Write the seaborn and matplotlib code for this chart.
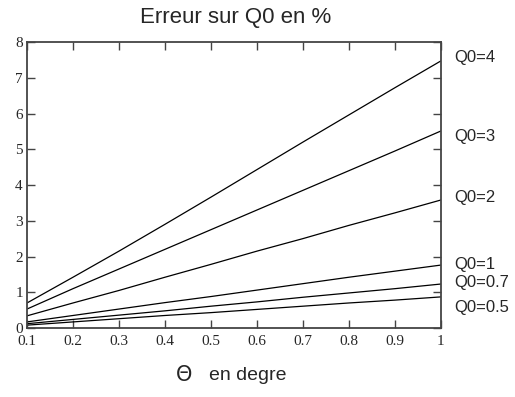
import matplotlib
matplotlib.use("Agg")
from matplotlib import pyplot as plt
import pandas as pd
import seaborn as sns

# angle in degrees
theta = [0.1, 0.2, 0.3, 0.4, 0.5, 0.6, 0.7, 0.8, 0.9, 1.0]

# error on Q0 (%) for each Q0 value
err_q4 = [0.70, 1.42, 2.15, 2.90, 3.66, 4.43, 5.20, 5.96, 6.72, 7.47]
err_q3 = [0.53, 1.10, 1.65, 2.20, 2.75, 3.30, 3.85, 4.40, 4.95, 5.51]
err_q2 = [0.34, 0.70, 1.05, 1.42, 1.78, 2.15, 2.50, 2.87, 3.22, 3.58]
err_q1 = [0.17, 0.35, 0.53, 0.71, 0.88, 1.06, 1.24, 1.42, 1.59, 1.76]
err_q07 = [0.12, 0.24, 0.36, 0.48, 0.61, 0.73, 0.86, 0.98, 1.10, 1.23]
err_q05 = [0.08, 0.17, 0.26, 0.35, 0.43, 0.52, 0.61, 0.70, 0.78, 0.87]

series_names = ["Q0=4", "Q0=3", "Q0=2", "Q0=1", "Q0=0.7", "Q0=0.5"]
series_values = [err_q4, err_q3, err_q2, err_q1, err_q07, err_q05]

x_ticks = [0.1, 0.2, 0.3, 0.4, 0.5, 0.6, 0.7, 0.8, 0.9, 1]
x_tick_labels = ["0.1", "0.2", "0.3", "0.4", "0.5", "0.6", "0.7", "0.8", "0.9", "1"]
y_ticks = [0, 1, 2, 3, 4, 5, 6, 7, 8]

# long table for seaborn
rows = []
for name, vals in zip(series_names, series_values):
    for t, v in zip(theta, vals):
        rows.append({"theta": t, "err": v, "Q0": name})
df = pd.DataFrame(rows)

sns.set_style("white")
plt.rcParams["font.family"] = ["Liberation Sans", "DejaVu Sans"]

fig = plt.figure(figsize=(5.15, 3.97), dpi=100)
ax = fig.add_axes([0.0524, 0.1738, 0.8036, 0.7204])

sns.lineplot(data=df, x="theta", y="err", hue="Q0", hue_order=series_names,
             palette=["black"] * len(series_names), linewidth=0.9,
             legend=False, ax=ax)

ax.set_xlim(0.1, 1)
ax.set_ylim(0, 8)
ax.set_xticks(x_ticks)
ax.set_xticklabels(x_tick_labels)
ax.set_yticks(y_ticks)

for side in ["left", "right", "top", "bottom"]:
    ax.spines[side].set_visible(True)
    ax.spines[side].set_color("#444444")
    ax.spines[side].set_linewidth(1.3)

ax.tick_params(direction="in", length=6, width=1, color="#444444",
               top=True, right=True, left=True, bottom=True,
               labeltop=False, labelright=False)
ax.tick_params(axis="y", pad=3)
ax.tick_params(axis="x", pad=5)
for lab in ax.get_xticklabels() + ax.get_yticklabels():
    lab.set_family("Liberation Serif")
    lab.set_fontsize(11)

ax.set_xlabel("")
ax.set_ylabel("")

# series labels to the right of the box
label_y = [7.58, 5.37, 3.66, 1.79, 1.26, 0.56]
for name, ly in zip(series_names, label_y):
    ax.text(1.033, ly, name, transform=ax.get_yaxis_transform(),
            ha="left", va="center", fontsize=12)

fig.text(0.458, 0.955, "Erreur sur Q0 en %", ha="center", va="center", fontsize=16)
fig.text(0.358, 0.055, "\u0398", ha="center", va="center", fontsize=15,
         family="DejaVu Sans")
fig.text(0.405, 0.055, "en degre", ha="left", va="center", fontsize=14)

fig.savefig("out.png", dpi=100)
